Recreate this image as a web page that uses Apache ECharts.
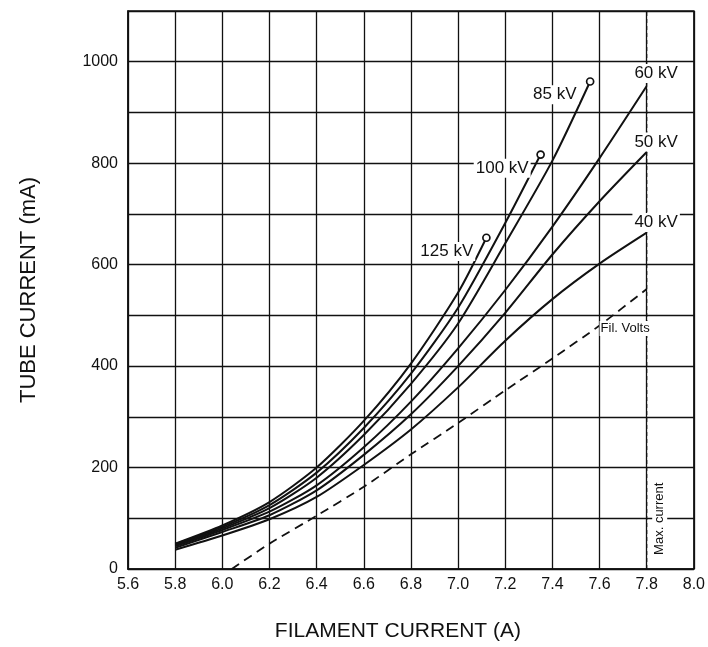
<!DOCTYPE html>
<html>
<head>
<meta charset="utf-8">
<script src="https://cdn.jsdelivr.net/npm/echarts@6/dist/echarts.min.js"></script>
<style>html,body{margin:0;padding:0;background:#fff;}#c{width:708px;height:647px;}</style>
</head>
<body>
<div id="c"></div>
<script>
// ---- data ----
const kv125 = [[5.8,50],[6.0,86],[6.2,132],[6.4,200],[6.6,292],[6.8,405],[7.0,545],[7.12,653]];
const kv100 = [[5.8,49],[6.0,83],[6.2,126],[6.4,190],[6.6,278],[6.8,385],[7.0,515],[7.2,682],[7.35,817]];
const kv85  = [[5.8,47],[6.0,80],[6.2,120],[6.4,180],[6.6,264],[6.8,365],[7.0,484],[7.2,642],[7.4,805],[7.56,961]];
const kv60  = [[5.8,45],[6.0,77],[6.2,113],[6.4,165],[6.6,240],[6.8,330],[7.0,435],[7.2,550],[7.4,675],[7.6,810],[7.8,952]];
const kv50  = [[5.8,42],[6.0,73],[6.2,106],[6.4,155],[6.6,225],[6.8,305],[7.0,400],[7.2,505],[7.4,620],[7.6,725],[7.8,822]];
const kv40  = [[5.8,38],[6.0,66],[6.2,98],[6.4,142],[6.6,205],[6.8,275],[7.0,358],[7.2,450],[7.4,532],[7.6,602],[7.8,663]];
const filVolts = [[6.04,0],[6.2,50],[6.4,105],[6.6,162],[6.8,226],[7.0,288],[7.2,352],[7.4,415],[7.6,480],[7.8,552]];
const maxCurrent = [[7.8,0],[7.8,1100]];

const curveNames = ['125 kV','100 kV','85 kV','60 kV','50 kV','40 kV'];
const curveData  = [kv125, kv100, kv85, kv60, kv50, kv40];
const endCircle  = [true, true, true, false, false, false];

// label anchors (data coordinates)
const curveLabelAnchors = [[6.952,626],[7.187,790],[7.41,935],[7.84,977],[7.84,842],[7.84,683]];
const filLabelAnchor = [7.600,474];
const maxLabelAnchor = [7.855,99];

const xMin = 5.6, xMax = 8.0, xStep = 0.2;
const yMin = 0, yMax = 1100, yStep = 100, yLabelStep = 200;
const xTitle = 'FILAMENT CURRENT (A)';
const yTitle = 'TUBE CURRENT (mA)';

// ---- chart ----
const FONT = '"Liberation Sans", Arial, Helvetica, sans-serif';
const INK = '#111';
const chart = echarts.init(document.getElementById('c'), null, {renderer:'canvas'});

const series = [];
curveData.forEach((d, i) => {
  series.push({
    type: 'line', name: curveNames[i], data: d, smooth: 0.25,
    symbol: 'none', lineStyle: {color: INK, width: 2}, z: 3,
    markPoint: endCircle[i] ? {
      symbol: 'circle', symbolSize: 7,
      itemStyle: {color: '#fff', borderColor: INK, borderWidth: 1.7},
      label: {show: false},
      data: [{coord: d[d.length - 1]}]
    } : undefined
  });
});
series.push({
  type: 'line', name: 'Fil. Volts', data: filVolts, smooth: 0.2, symbol: 'none',
  lineStyle: {color: INK, width: 1.8, type: [9, 6]}, z: 3
});
series.push({
  type: 'line', name: 'Max. current', data: maxCurrent, symbol: 'none',
  lineStyle: {color: INK, width: 1.2, type: [4, 3]}, z: 3
});

const baseLabel = {show: true, formatter: '{b}', color: INK, fontFamily: FONT,
  textBorderWidth: 0, textBorderColor: 'transparent', backgroundColor: '#fff'};
const labelData = curveNames.map((n, i) => ({
  name: n, value: curveLabelAnchors[i],
  label: Object.assign({}, baseLabel, {position: 'inside', fontSize: 17, padding: [1, 2]})
}));
labelData.push({
  name: 'Fil. Volts', value: filLabelAnchor,
  label: Object.assign({}, baseLabel, {position: 'right', distance: 0, fontSize: 13, padding: [1, 1]})
});
labelData.push({
  name: 'Max. current', value: maxLabelAnchor,
  label: Object.assign({}, baseLabel, {position: 'inside', rotate: 90, fontSize: 13, padding: [1, 1]})
});
series.push({
  type: 'scatter', data: labelData, symbolSize: 0, z: 5, silent: true,
  itemStyle: {color: INK, opacity: 1}
});

chart.setOption({
  animation: false,
  backgroundColor: '#fff',
  grid: {left: 128, right: 10, top: 11, bottom: 74, show: true,
    borderColor: INK, borderWidth: 1.5, backgroundColor: 'transparent'},
  xAxis: {
    type: 'value', min: xMin, max: xMax, interval: xStep,
    name: xTitle, nameLocation: 'middle', nameGap: 52,
    nameTextStyle: {fontFamily: FONT, fontSize: 21, color: INK, padding: [0, 26, 0, 0]},
    axisLine: {show: true, lineStyle: {color: INK, width: 1.5}},
    axisTick: {show: false},
    axisLabel: {fontFamily: FONT, fontSize: 16, color: INK, margin: 8,
      formatter: v => v.toFixed(1)},
    splitLine: {show: true, lineStyle: {color: INK, width: 1.3}}
  },
  yAxis: {
    type: 'value', min: yMin, max: yMax, interval: yStep,
    name: yTitle, nameLocation: 'middle', nameGap: 88, nameRotate: 90,
    nameTextStyle: {fontFamily: FONT, fontSize: 22, color: INK},
    axisLine: {show: true, lineStyle: {color: INK, width: 1.5}},
    axisTick: {show: false},
    axisLabel: {fontFamily: FONT, fontSize: 16, color: INK, margin: 10,
      formatter: v => (Math.round(v) % yLabelStep === 0 ? String(Math.round(v)) : '')},
    splitLine: {show: true, lineStyle: {color: INK, width: 1.3}}
  },
  series: series
});
</script>
</body>
</html>
